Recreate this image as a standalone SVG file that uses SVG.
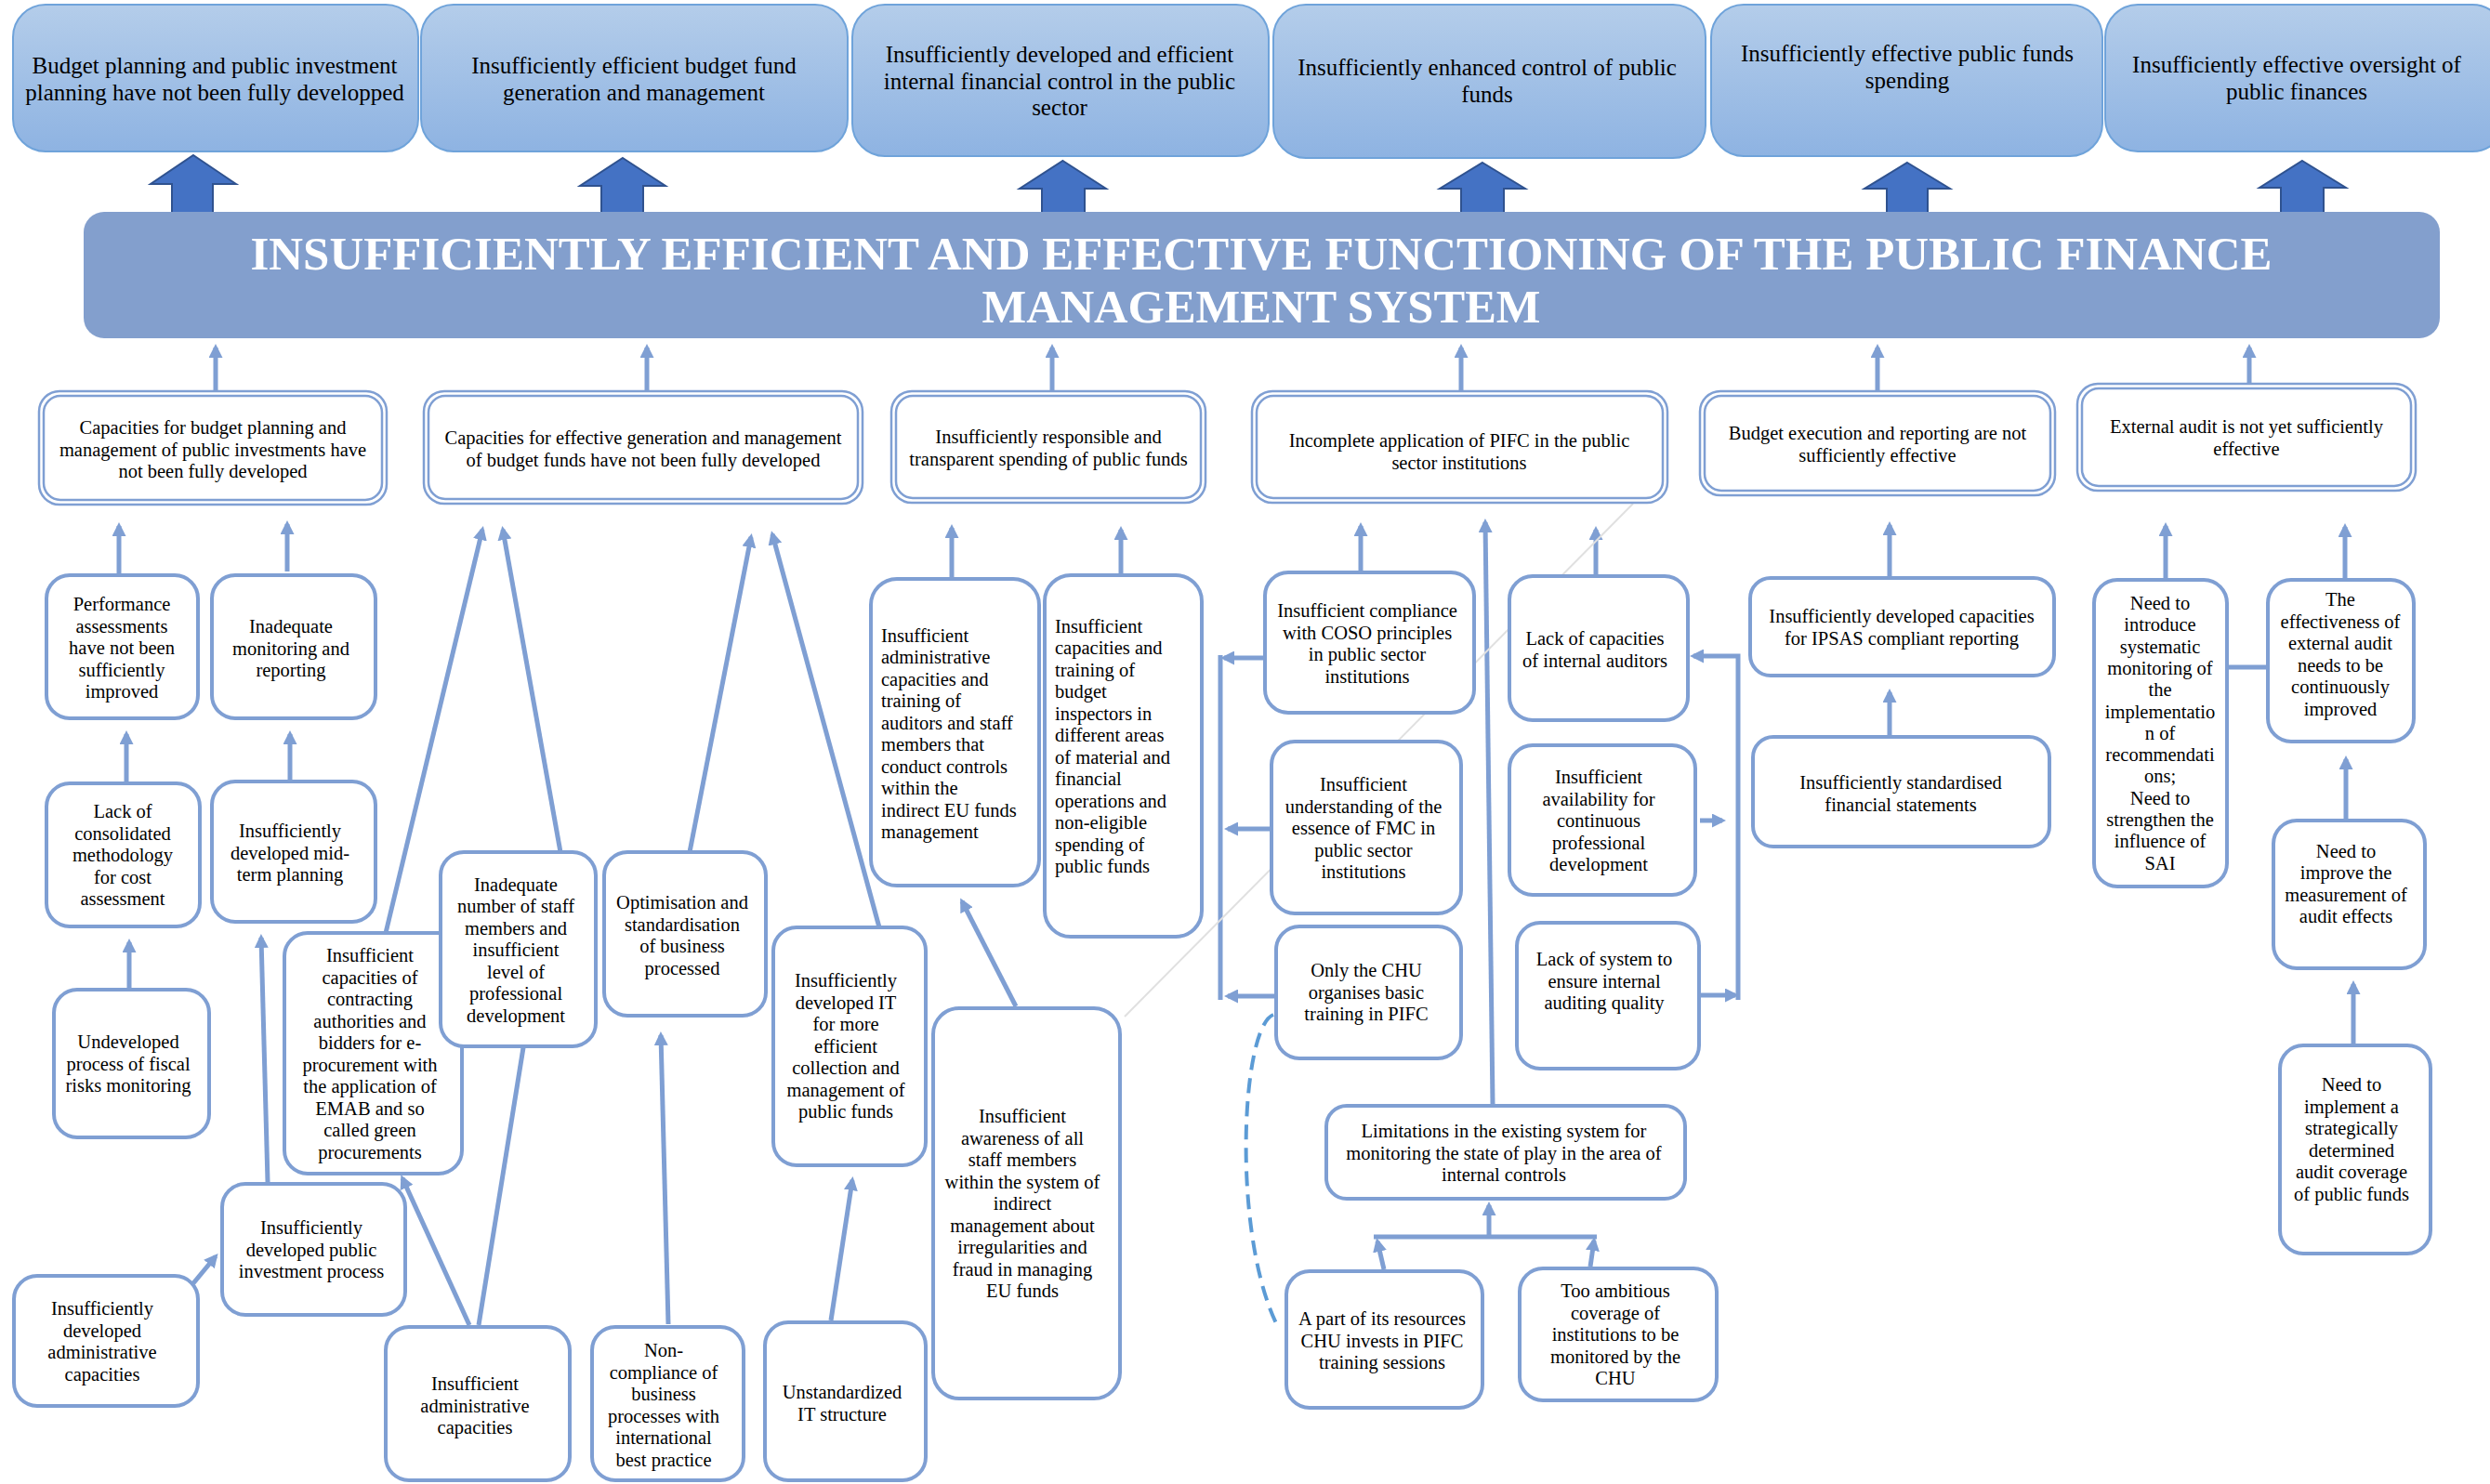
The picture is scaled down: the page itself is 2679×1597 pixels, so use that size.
<svg xmlns="http://www.w3.org/2000/svg" width="2679" height="1597" viewBox="0 0 2679 1597">
<defs>
<linearGradient id="hg" x1="0" y1="0" x2="0" y2="1">
<stop offset="0" stop-color="#b4cdea"/>
<stop offset="1" stop-color="#8eb3e2"/>
</linearGradient>
<marker id="ah" viewBox="0 0 15 15" markerUnits="userSpaceOnUse" markerWidth="15" markerHeight="15" refX="11" refY="7.5" orient="auto">
<path d="M0,0 L15,7.5 L0,15 z" fill="#7f9fd3"/>
</marker>
<style>
.hdr{fill:url(#hg);stroke:#6fa3da;stroke-width:2}
.ht{font-family:"Liberation Serif","Times New Roman",serif;font-size:25px;fill:#000;text-anchor:middle}
.bt{font-family:"Liberation Serif","Times New Roman",serif;font-size:50.5px;font-weight:bold;fill:#fff;text-anchor:middle}
.blk{fill:#4472c4;stroke:#2f528f;stroke-width:2}
.box{fill:#fff;stroke:#7f9fd3;stroke-width:4}
.dbl{fill:#fff;stroke:#7f9fd3;stroke-width:2.5}
.dbi{fill:none;stroke:#7f9fd3;stroke-width:2.5}
.t{font-family:"Liberation Serif","Times New Roman",serif;font-size:20.5px;fill:#000;text-anchor:middle}
.tl{font-family:"Liberation Serif","Times New Roman",serif;font-size:20.5px;fill:#000;text-anchor:start}
.c{stroke:#7f9fd3;stroke-width:5;fill:none}
.a{marker-end:url(#ah)}
</style>
</defs>
<rect width="2679" height="1597" fill="#fff"/>

<g id="headers">
<g id="h1"><rect class="hdr" x="14" y="5" width="436" height="158" rx="35"/>
<text class="ht"><tspan x="231" y="79">Budget planning and public investment</tspan><tspan x="231" y="107.5">planning have not been fully developped</tspan></text></g>
<g id="h2"><rect class="hdr" x="453" y="5" width="459" height="158" rx="35"/>
<text class="ht"><tspan x="682" y="79">Insufficiently efficient budget fund</tspan><tspan x="682" y="107.5">generation and management</tspan></text></g>
<g id="h3"><rect class="hdr" x="917" y="5" width="448" height="163" rx="35"/>
<text class="ht"><tspan x="1140" y="67">Insufficiently developed and efficient</tspan><tspan x="1140" y="95.5">internal financial control in the public</tspan><tspan x="1140" y="124">sector</tspan></text></g>
<g id="h4"><rect class="hdr" x="1370" y="5" width="465" height="165" rx="35"/>
<text class="ht"><tspan x="1600" y="81">Insufficiently enhanced control of public</tspan><tspan x="1600" y="109.5">funds</tspan></text></g>
<g id="h5"><rect class="hdr" x="1841" y="5" width="421" height="163" rx="35"/>
<text class="ht"><tspan x="2052" y="66">Insufficiently effective public funds</tspan><tspan x="2052" y="94.5">spending</tspan></text></g>
<g id="h6"><rect class="hdr" x="2265" y="5" width="430" height="158" rx="35"/>
<text class="ht"><tspan x="2471" y="78">Insufficiently effective oversight of</tspan><tspan x="2471" y="106.5">public finances</tspan></text></g>
</g>

<g id="block-arrows">
<polygon class="blk" points="208,167 254,198 229,198 229,230 185,230 185,198 162,198"/>
<polygon class="blk" points="670,170 716,200 692,200 692,230 647,230 647,200 624,200"/>
<polygon class="blk" points="1143.5,173 1190,203 1167,203 1167,232 1121,232 1121,203 1097,203"/>
<polygon class="blk" points="1595,175 1641,203 1618,203 1618,232 1572,232 1572,203 1549,203"/>
<polygon class="blk" points="2052,175 2098,203 2074,203 2074,232 2030,232 2030,203 2006,203"/>
<polygon class="blk" points="2477,173 2524,202 2500,202 2500,231 2454,231 2454,202 2431,202"/>
</g>

<g id="banner">
<rect x="90" y="228" width="2535" height="136" rx="22" fill="#839fcd"/>
<text class="bt" x="1357" y="290" textLength="2175" lengthAdjust="spacingAndGlyphs">INSUFFICIENTLY EFFICIENT AND EFFECTIVE FUNCTIONING OF THE PUBLIC FINANCE</text>
<text class="bt" x="1357" y="347" textLength="601" lengthAdjust="spacingAndGlyphs">MANAGEMENT SYSTEM</text>
</g>

<g id="connectors">
<line class="c a" x1="232" y1="421" x2="232" y2="374"/>
<line class="c a" x1="696" y1="421" x2="696" y2="374"/>
<line class="c a" x1="1132" y1="421" x2="1132" y2="374"/>
<line class="c a" x1="1572" y1="421" x2="1572" y2="374"/>
<line class="c a" x1="2020" y1="421" x2="2020" y2="374"/>
<line class="c a" x1="2420" y1="413" x2="2420" y2="374"/>

<line class="c a" x1="128" y1="617" x2="128" y2="566"/>
<line class="c a" x1="309" y1="615" x2="309" y2="564"/>
<line class="c a" x1="136" y1="841" x2="136" y2="790"/>
<line class="c a" x1="312" y1="841" x2="312" y2="790"/>
<line class="c a" x1="139" y1="1064" x2="139" y2="1014"/>
<line class="c a" x1="288" y1="1272" x2="281" y2="1009"/>
<line class="c a" x1="208" y1="1381" x2="232" y2="1352"/>
<line class="c a" x1="415" y1="1004" x2="519" y2="570"/>
<line class="c a" x1="603" y1="917" x2="541" y2="570"/>
<line class="c a" x1="505" y1="1426" x2="433" y2="1268"/>
<line class="c a" x1="515" y1="1426" x2="565" y2="1115"/>
<line class="c a" x1="742" y1="917" x2="808" y2="578"/>
<line class="c a" x1="946" y1="998" x2="831" y2="575"/>
<line class="c a" x1="719" y1="1425" x2="711" y2="1114"/>
<line class="c a" x1="894" y1="1421" x2="917" y2="1270"/>
<line class="c a" x1="1093" y1="1083" x2="1035" y2="970"/>
<line class="c a" x1="1024" y1="621" x2="1024" y2="568"/>
<line class="c a" x1="1206" y1="617" x2="1206" y2="570"/>
<line class="c a" x1="1464" y1="614" x2="1464" y2="566"/>
<line class="c a" x1="1606" y1="1188" x2="1598" y2="562"/>
<line class="c a" x1="1717" y1="618" x2="1717" y2="570"/>

<line class="c a" x1="1361" y1="708" x2="1317" y2="708"/>
<line class="c a" x1="1368" y1="892" x2="1321" y2="892"/>
<line class="c a" x1="1373" y1="1072" x2="1321" y2="1072"/>
<line class="c" x1="1313" y1="705" x2="1313" y2="1076"/>

<path class="c a" d="M1870,1076 L1870,706 L1822,706"/>
<line class="c a" x1="1828" y1="1071" x2="1867" y2="1071"/>
<line class="c a" x1="1829" y1="883" x2="1853" y2="883"/>

<line class="c a" x1="1489" y1="1366" x2="1482" y2="1336"/>
<line class="c a" x1="1711" y1="1363" x2="1715" y2="1335"/>
<line class="c" x1="1478" y1="1331" x2="1718" y2="1331"/>
<line class="c a" x1="1602" y1="1331" x2="1602" y2="1297"/>

<line class="c a" x1="2033" y1="620" x2="2033" y2="565"/>
<line class="c a" x1="2033" y1="793" x2="2033" y2="745"/>
<line class="c a" x1="2330" y1="622" x2="2330" y2="566"/>
<line class="c a" x1="2523" y1="622" x2="2523" y2="567"/>
<line class="c a" x1="2524" y1="881" x2="2524" y2="817"/>
<line class="c a" x1="2532" y1="1123" x2="2532" y2="1059"/>
<line class="c" x1="2396" y1="718" x2="2440" y2="718"/>

<path d="M1370,1092 C1335,1105 1325,1330 1375,1428" fill="none" stroke="#5b9bd5" stroke-width="4" stroke-dasharray="16 9"/>
<line x1="1210" y1="1094" x2="1757" y2="542" stroke="#e0e0e0" stroke-width="2"/>
</g>

<g id="level2">
<g id="b1"><rect class="dbl" x="42" y="421" width="374" height="122" rx="22"/><rect class="dbi" x="47" y="426" width="364" height="112" rx="18"/>
<text class="t"><tspan x="229" y="467">Capacities for budget planning and</tspan><tspan x="229" y="490.5">management of public investments have</tspan><tspan x="229" y="514">not been fully developed</tspan></text></g>
<g id="b2"><rect class="dbl" x="456" y="421" width="472" height="121" rx="22"/><rect class="dbi" x="461" y="426" width="462" height="111" rx="18"/>
<text class="t"><tspan x="692" y="478">Capacities for effective generation and management</tspan><tspan x="692" y="501.5">of budget funds have not been fully developed</tspan></text></g>
<g id="b3"><rect class="dbl" x="959" y="421" width="338" height="120" rx="22"/><rect class="dbi" x="964" y="426" width="328" height="110" rx="18"/>
<text class="t"><tspan x="1128" y="477">Insufficiently responsible and</tspan><tspan x="1128" y="500.5">transparent spending of public funds</tspan></text></g>
<g id="b4"><rect class="dbl" x="1347" y="421" width="447" height="120" rx="22"/><rect class="dbi" x="1352" y="426" width="437" height="110" rx="18"/>
<text class="t"><tspan x="1570" y="481">Incomplete application of PIFC in the public</tspan><tspan x="1570" y="504.5">sector institutions</tspan></text></g>
<g id="b5"><rect class="dbl" x="1829" y="421" width="382" height="112" rx="22"/><rect class="dbi" x="1834" y="426" width="372" height="102" rx="18"/>
<text class="t"><tspan x="2020" y="473">Budget execution and reporting are not</tspan><tspan x="2020" y="496.5">sufficiently effective</tspan></text></g>
<g id="b6"><rect class="dbl" x="2235" y="413" width="364" height="115" rx="22"/><rect class="dbi" x="2240" y="418" width="354" height="105" rx="18"/>
<text class="t"><tspan x="2417" y="466">External audit is not yet sufficiently</tspan><tspan x="2417" y="489.5">effective</tspan></text></g>
</g>

<g id="causes">
<g id="p1"><rect class="box" x="50" y="619" width="163" height="154" rx="25"/>
<text class="t"><tspan x="131" y="657">Performance</tspan><tspan x="131" y="680.5">assessments</tspan><tspan x="131" y="704">have not been</tspan><tspan x="131" y="727.5">sufficiently</tspan><tspan x="131" y="751">improved</tspan></text></g>
<g id="p2"><rect class="box" x="228" y="619" width="176" height="154" rx="25"/>
<text class="t"><tspan x="313" y="681">Inadequate</tspan><tspan x="313" y="704.5">monitoring and</tspan><tspan x="313" y="728">reporting</tspan></text></g>
<g id="p3"><rect class="box" x="50" y="843" width="165" height="154" rx="25"/>
<text class="t"><tspan x="132" y="880">Lack of</tspan><tspan x="132" y="903.5">consolidated</tspan><tspan x="132" y="927">methodology</tspan><tspan x="132" y="950.5">for cost</tspan><tspan x="132" y="974">assessment</tspan></text></g>
<g id="p4"><rect class="box" x="228" y="841" width="176" height="151" rx="25"/>
<text class="t"><tspan x="312" y="901">Insufficiently</tspan><tspan x="312" y="924.5">developed mid-</tspan><tspan x="312" y="948">term planning</tspan></text></g>
<g id="p5"><rect class="box" x="58" y="1065" width="167" height="159" rx="25"/>
<text class="t"><tspan x="138" y="1128">Undeveloped</tspan><tspan x="138" y="1151.5">process of fiscal</tspan><tspan x="138" y="1175">risks monitoring</tspan></text></g>
<g id="p6"><rect class="box" x="306" y="1004" width="191" height="259" rx="25"/>
<text class="t"><tspan x="398" y="1035">Insufficient</tspan><tspan x="398" y="1058.5">capacities of</tspan><tspan x="398" y="1082">contracting</tspan><tspan x="398" y="1105.5">authorities and</tspan><tspan x="398" y="1129">bidders for e-</tspan><tspan x="398" y="1152.5">procurement with</tspan><tspan x="398" y="1176">the application of</tspan><tspan x="398" y="1199.5">EMAB and so</tspan><tspan x="398" y="1223">called green</tspan><tspan x="398" y="1246.5">procurements</tspan></text></g>
<g id="p7"><rect class="box" x="474" y="917" width="167" height="209" rx="25"/>
<text class="t"><tspan x="555" y="958.5">Inadequate</tspan><tspan x="555" y="982">number of staff</tspan><tspan x="555" y="1005.5">members and</tspan><tspan x="555" y="1029">insufficient</tspan><tspan x="555" y="1052.5">level of</tspan><tspan x="555" y="1076">professional</tspan><tspan x="555" y="1099.5">development</tspan></text></g>
<g id="p8"><rect class="box" x="239" y="1274" width="197" height="141" rx="25"/>
<text class="t"><tspan x="335" y="1328">Insufficiently</tspan><tspan x="335" y="1351.5">developed public</tspan><tspan x="335" y="1375">investment process</tspan></text></g>
<g id="p9"><rect class="box" x="15" y="1373" width="198" height="140" rx="25"/>
<text class="t"><tspan x="110" y="1415">Insufficiently</tspan><tspan x="110" y="1438.5">developed</tspan><tspan x="110" y="1462">administrative</tspan><tspan x="110" y="1485.5">capacities</tspan></text></g>
<g id="p10"><rect class="box" x="415" y="1428" width="198" height="165" rx="25"/>
<text class="t"><tspan x="511" y="1496">Insufficient</tspan><tspan x="511" y="1519.5">administrative</tspan><tspan x="511" y="1543">capacities</tspan></text></g>
<g id="p11"><rect class="box" x="650" y="917" width="174" height="176" rx="25"/>
<text class="t"><tspan x="734" y="978">Optimisation and</tspan><tspan x="734" y="1001.5">standardisation</tspan><tspan x="734" y="1025">of business</tspan><tspan x="734" y="1048.5">processed</tspan></text></g>
<g id="p12"><rect class="box" x="637" y="1428" width="163" height="165" rx="25"/>
<text class="t"><tspan x="714" y="1460">Non-</tspan><tspan x="714" y="1483.5">compliance of</tspan><tspan x="714" y="1507">business</tspan><tspan x="714" y="1530.5">processes with</tspan><tspan x="714" y="1554">international</tspan><tspan x="714" y="1577.5">best practice</tspan></text></g>
<g id="p13"><rect class="box" x="832" y="998" width="164" height="256" rx="25"/>
<text class="t"><tspan x="910" y="1062">Insufficiently</tspan><tspan x="910" y="1085.5">developed IT</tspan><tspan x="910" y="1109">for more</tspan><tspan x="910" y="1132.5">efficient</tspan><tspan x="910" y="1156">collection and</tspan><tspan x="910" y="1179.5">management of</tspan><tspan x="910" y="1203">public funds</tspan></text></g>
<g id="p14"><rect class="box" x="823" y="1423" width="173" height="170" rx="25"/>
<text class="t"><tspan x="906" y="1505">Unstandardized</tspan><tspan x="906" y="1528.5">IT structure</tspan></text></g>
<g id="p15"><rect class="box" x="1004" y="1085" width="201" height="420" rx="28"/>
<text class="t"><tspan x="1100" y="1208">Insufficient</tspan><tspan x="1100" y="1231.5">awareness of all</tspan><tspan x="1100" y="1255">staff members</tspan><tspan x="1100" y="1278.5">within the system of</tspan><tspan x="1100" y="1302">indirect</tspan><tspan x="1100" y="1325.5">management about</tspan><tspan x="1100" y="1349">irregularities and</tspan><tspan x="1100" y="1372.5">fraud in managing</tspan><tspan x="1100" y="1396">EU funds</tspan></text></g>
<g id="p16"><rect class="box" x="937" y="623" width="181" height="330" rx="28"/>
<text class="tl"><tspan x="948" y="690.5">Insufficient</tspan><tspan x="948" y="714">administrative</tspan><tspan x="948" y="737.5">capacities and</tspan><tspan x="948" y="761">training of</tspan><tspan x="948" y="784.5">auditors and staff</tspan><tspan x="948" y="808">members that</tspan><tspan x="948" y="831.5">conduct controls</tspan><tspan x="948" y="855">within the</tspan><tspan x="948" y="878.5">indirect EU funds</tspan><tspan x="948" y="902">management</tspan></text></g>
<g id="p17"><rect class="box" x="1124" y="619" width="169" height="389" rx="28"/>
<text class="tl"><tspan x="1135" y="680.5">Insufficient</tspan><tspan x="1135" y="704">capacities and</tspan><tspan x="1135" y="727.5">training of</tspan><tspan x="1135" y="751">budget</tspan><tspan x="1135" y="774.5">inspectors in</tspan><tspan x="1135" y="798">different areas</tspan><tspan x="1135" y="821.5">of material and</tspan><tspan x="1135" y="845">financial</tspan><tspan x="1135" y="868.5">operations and</tspan><tspan x="1135" y="892">non-eligible</tspan><tspan x="1135" y="915.5">spending of</tspan><tspan x="1135" y="939">public funds</tspan></text></g>
<g id="p18"><rect class="box" x="1361" y="616" width="225" height="151" rx="25"/>
<text class="t"><tspan x="1471" y="664">Insufficient compliance</tspan><tspan x="1471" y="687.5">with COSO principles</tspan><tspan x="1471" y="711">in public sector</tspan><tspan x="1471" y="734.5">institutions</tspan></text></g>
<g id="p19"><rect class="box" x="1368" y="798" width="204" height="185" rx="25"/>
<text class="t"><tspan x="1467" y="851">Insufficient</tspan><tspan x="1467" y="874.5">understanding of the</tspan><tspan x="1467" y="898">essence of FMC in</tspan><tspan x="1467" y="921.5">public sector</tspan><tspan x="1467" y="945">institutions</tspan></text></g>
<g id="p20"><rect class="box" x="1373" y="997" width="199" height="142" rx="25"/>
<text class="t"><tspan x="1470" y="1051">Only the CHU</tspan><tspan x="1470" y="1074.5">organises basic</tspan><tspan x="1470" y="1098">training in PIFC</tspan></text></g>
<g id="p21"><rect class="box" x="1624" y="620" width="192" height="155" rx="25"/>
<text class="t"><tspan x="1716" y="694">Lack of capacities</tspan><tspan x="1716" y="717.5">of internal auditors</tspan></text></g>
<g id="p22"><rect class="box" x="1624" y="802" width="200" height="161" rx="25"/>
<text class="t"><tspan x="1720" y="843">Insufficient</tspan><tspan x="1720" y="866.5">availability for</tspan><tspan x="1720" y="890">continuous</tspan><tspan x="1720" y="913.5">professional</tspan><tspan x="1720" y="937">development</tspan></text></g>
<g id="p23"><rect class="box" x="1632" y="993" width="196" height="157" rx="25"/>
<text class="t"><tspan x="1726" y="1039">Lack of system to</tspan><tspan x="1726" y="1062.5">ensure internal</tspan><tspan x="1726" y="1086">auditing quality</tspan></text></g>
<g id="p24"><rect class="box" x="1427" y="1190" width="386" height="100" rx="22"/>
<text class="t"><tspan x="1618" y="1224">Limitations in the existing system for</tspan><tspan x="1618" y="1247.5">monitoring the state of play in the area of</tspan><tspan x="1618" y="1271">internal controls</tspan></text></g>
<g id="p25"><rect class="box" x="1384" y="1368" width="211" height="147" rx="25"/>
<text class="t"><tspan x="1487" y="1426">A part of its resources</tspan><tspan x="1487" y="1449.5">CHU invests in PIFC</tspan><tspan x="1487" y="1473">training sessions</tspan></text></g>
<g id="p26"><rect class="box" x="1635" y="1365" width="212" height="142" rx="25"/>
<text class="t"><tspan x="1738" y="1396">Too ambitious</tspan><tspan x="1738" y="1419.5">coverage of</tspan><tspan x="1738" y="1443">institutions to be</tspan><tspan x="1738" y="1466.5">monitored by the</tspan><tspan x="1738" y="1490">CHU</tspan></text></g>
<g id="p27"><rect class="box" x="1883" y="622" width="327" height="105" rx="22"/>
<text class="t"><tspan x="2046" y="670">Insufficiently developed capacities</tspan><tspan x="2046" y="693.5">for IPSAS compliant reporting</tspan></text></g>
<g id="p28"><rect class="box" x="1886" y="793" width="319" height="118" rx="22"/>
<text class="t"><tspan x="2045" y="849">Insufficiently standardised</tspan><tspan x="2045" y="872.5">financial statements</tspan></text></g>
<g id="p29"><rect class="box" x="2253" y="624" width="143" height="330" rx="25"/>
<text class="t"><tspan x="2324" y="656">Need to</tspan><tspan x="2324" y="679.3">introduce</tspan><tspan x="2324" y="702.6">systematic</tspan><tspan x="2324" y="725.9">monitoring of</tspan><tspan x="2324" y="749.2">the</tspan><tspan x="2324" y="772.5">implementatio</tspan><tspan x="2324" y="795.8">n of</tspan><tspan x="2324" y="819.1">recommendati</tspan><tspan x="2324" y="842.4">ons;</tspan><tspan x="2324" y="865.7">Need to</tspan><tspan x="2324" y="889">strengthen the</tspan><tspan x="2324" y="912.3">influence of</tspan><tspan x="2324" y="935.6">SAI</tspan></text></g>
<g id="p30"><rect class="box" x="2440" y="624" width="157" height="174" rx="25"/>
<text class="t"><tspan x="2518" y="652">The</tspan><tspan x="2518" y="675.5">effectiveness of</tspan><tspan x="2518" y="699">external audit</tspan><tspan x="2518" y="722.5">needs to be</tspan><tspan x="2518" y="746">continuously</tspan><tspan x="2518" y="769.5">improved</tspan></text></g>
<g id="p31"><rect class="box" x="2446" y="883" width="163" height="159" rx="25"/>
<text class="t"><tspan x="2524" y="922.5">Need to</tspan><tspan x="2524" y="946">improve the</tspan><tspan x="2524" y="969.5">measurement of</tspan><tspan x="2524" y="993">audit effects</tspan></text></g>
<g id="p32"><rect class="box" x="2453" y="1125" width="162" height="224" rx="25"/>
<text class="t"><tspan x="2530" y="1174">Need to</tspan><tspan x="2530" y="1197.5">implement a</tspan><tspan x="2530" y="1221">strategically</tspan><tspan x="2530" y="1244.5">determined</tspan><tspan x="2530" y="1268">audit coverage</tspan><tspan x="2530" y="1291.5">of public funds</tspan></text></g>
</g>
</svg>
